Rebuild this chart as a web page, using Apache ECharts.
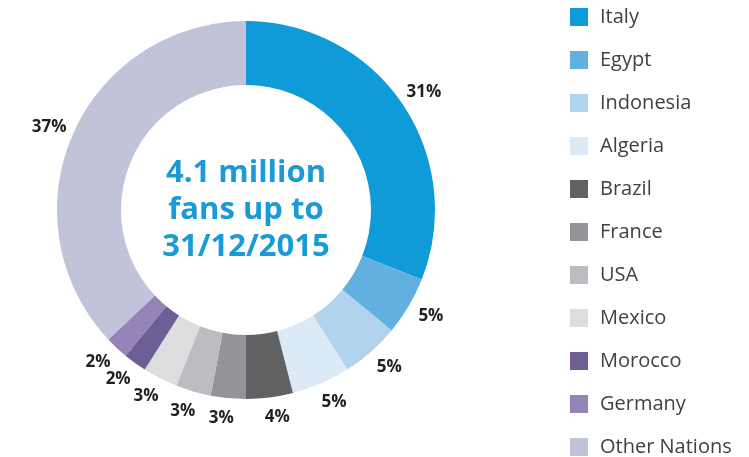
<!DOCTYPE html>
<html>
<head>
<meta charset="utf-8">
<script src="https://cdn.jsdelivr.net/npm/echarts@6/dist/echarts.min.js"></script>
<style>
  html, body { margin: 0; padding: 0; background: #fff; }
  #main { width: 749px; height: 457px; }
</style>
</head>
<body>
<div id="main"></div>
<script>
// 数据
var countries = ['Italy', 'Egypt', 'Indonesia', 'Algeria', 'Brazil', 'France', 'USA', 'Mexico', 'Morocco', 'Germany', 'Other Nations'];
var shares = [31, 5, 5, 5, 4, 3, 3, 3, 2, 2, 37];
var colors = ['#0f9ad8', '#62b0e0', '#b0d3ee', '#dceaf7', '#626265', '#939497', '#bcbdc0', '#dcddde', '#6e5e96', '#9484b7', '#c1c3d9'];
var centerText = '4.1 million\nfans up to\n31/12/2015';

var pieData = countries.map(function (name, i) {
  return { name: name, value: shares[i] };
});

var myChart = echarts.init(document.getElementById('main'));
myChart.setOption({
  color: colors,
  animation: false,
  legend: {
    orient: 'vertical',
    left: 570,
    top: 7,
    height: 470,
    padding: 0,
    itemWidth: 18,
    itemHeight: 18,
    itemGap: 23,
    icon: 'rect',
    textStyle: {
      fontFamily: 'Open Sans',
      fontSize: 20,
      color: '#414042',
      padding: [0, 0, 0, 7]
    },
    data: countries
  },
  graphic: [{
    type: 'text',
    style: {
      text: centerText,
      x: 246,
      y: 210,
      textAlign: 'center',
      textVerticalAlign: 'middle',
      fill: '#1a9ad6',
      font: 'bold 31px "Open Sans"',
      lineHeight: 37
    }
  }],
  series: [
    {
      type: 'pie',
      center: [246, 210],
      radius: [125, 189],
      startAngle: 90,
      clockwise: true,
      avoidLabelOverlap: false,
      label: {
        show: true,
        position: 'outside',
        formatter: '{c}%',
        color: '#231f20',
        fontFamily: 'Open Sans',
        fontWeight: 'bold',
        fontSize: 17
      },
      labelLine: {
        show: false,
        length: 20,
        length2: 0
      },
      // 标签以锚点为中心，而不是左右对齐
      labelLayout: function (params) {
        var w = params.labelRect.width;
        if (params.align === 'left') return { dx: -w / 2 };
        if (params.align === 'right') return { dx: w / 2 };
        return {};
      },
      emphasis: { disabled: true },
      data: pieData
    }
  ]
});
</script>
</body>
</html>
